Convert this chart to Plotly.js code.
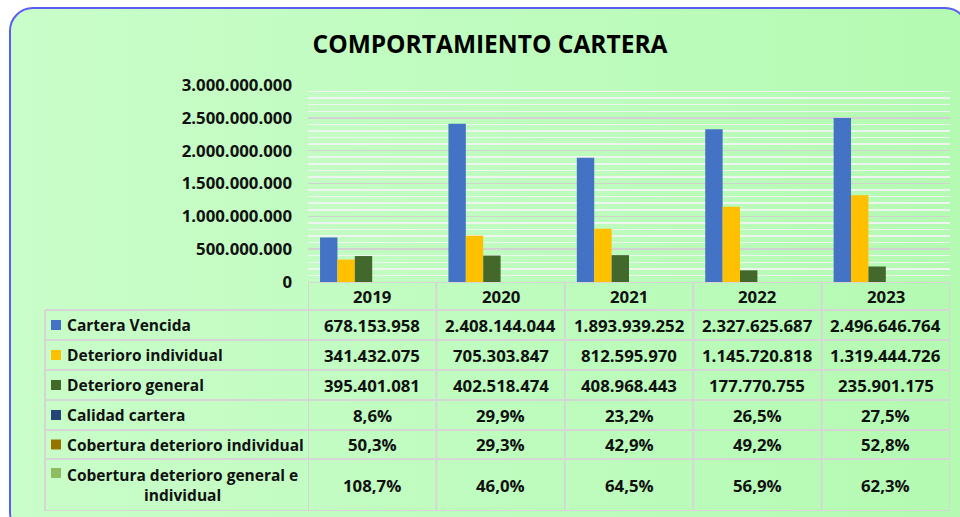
<!DOCTYPE html>
<html>
<head>
<meta charset="utf-8">
<script src="https://cdn.plot.ly/plotly-3.0.1.min.js"></script>
<style>
  html, body { margin: 0; padding: 0; background: #ffffff; width: 960px; height: 517px; overflow: hidden; }
  #frame { position: absolute; left: 9px; top: 7px; width: 960px; height: 530px;
           box-sizing: border-box; border: 2px solid #5a5cf2; border-radius: 24px;
           background: linear-gradient(90deg, #c9fdc9 0%, #bffcbf 50%, #b4fab2 100%); }
  #chart { position: absolute; left: 0; top: 0; width: 960px; height: 517px; }
</style>
</head>
<body>
<div id="frame"></div>
<div id="chart"></div>
<script>
// ---- data ----
const years = ['2019', '2020', '2021', '2022', '2023'];
const carteraVencida = [678153958, 2408144044, 1893939252, 2327625687, 2496646764];
const deterioroIndividual = [341432075, 705303847, 812595970, 1145720818, 1319444726];
const deterioroGeneral = [395401081, 402518474, 408968443, 177770755, 235901175];
const calidadCartera = [8.6, 29.9, 23.2, 26.5, 27.5];
const coberturaIndividual = [50.3, 29.3, 42.9, 49.2, 52.8];
const coberturaGeneralIndividual = [108.7, 46.0, 64.5, 56.9, 62.3];
const seriesNames = ['Cartera Vencida', 'Deterioro individual', 'Deterioro general',
  'Calidad cartera', 'Cobertura deterioro individual', 'Cobertura deterioro general e<br>individual'];
const yTickValues = [0, 500000000, 1000000000, 1500000000, 2000000000, 2500000000, 3000000000];

// ---- styles ----
const colors = ['#4472c4', '#ffc000', '#43682b', '#264478', '#997300', '#8fbc62'];
const FONT = 'Open Sans, sans-serif';
const TXT = '#111111';
const NUM_SIZE = 16.8;
const LAB_SIZE = 15.5;

const fmtNum = v => String(v).replace(/\B(?=(\d{3})+(?!\d))/g, '.');
const fmtPct = v => v.toFixed(1).replace('.', ',') + '%';

const rowsData = [
  carteraVencida.map(fmtNum),
  deterioroIndividual.map(fmtNum),
  deterioroGeneral.map(fmtNum),
  calidadCartera.map(fmtPct),
  coberturaIndividual.map(fmtPct),
  coberturaGeneralIndividual.map(fmtPct)
];

// all six series are plotted as clustered columns on the same axis (the
// percentage series are ratios, so their columns are too small to be seen)
const allSeries = [carteraVencida, deterioroIndividual, deterioroGeneral,
  calidadCartera.map(v => v / 100), coberturaIndividual.map(v => v / 100),
  coberturaGeneralIndividual.map(v => v / 100)];
const traces = allSeries.map((vals, i) => ({
  type: 'bar', x: years, y: vals, name: seriesNames[i],
  marker: { color: colors[i], line: { width: 0 } },
  hoverinfo: 'x+y'
}));

// ---- layout geometry ----
const W = 960, H = 517, ML = 308, MR = 10, MT = 85, MB = 6;
const PW = W - ML - MR, PH = H - MT - MB;
const tableTopPx = 282;
const splitFrac = (H - MB - tableTopPx) / PH;
const tableH = H - MB - tableTopPx;
const px2x = px => (px - ML) / PW;
const rowBounds = [0, 28, 58, 88, 118, 148, 177, tableH];
const rowCenters = [43, 73, 103, 133, 162.5, 203];
const lastRowKeyY = 191;

const shapes = [];
const annotations = [];
const lineStyle = { color: '#d6d6d6', width: 2 };

// horizontal lines
rowBounds.forEach((b, k) => {
  shapes.push({ type: 'line', xref: 'paper', yref: 'y2',
    x0: k === 0 ? 0 : px2x(45), x1: 1, y0: b, y1: b, line: lineStyle, layer: 'above' });
});
// vertical lines
shapes.push({ type: 'line', xref: 'paper', yref: 'y2', x0: px2x(45), x1: px2x(45), y0: rowBounds[1], y1: tableH, line: lineStyle });
for (let i = 0; i <= years.length; i++) {
  shapes.push({ type: 'line', xref: 'x', yref: 'y2', x0: i - 0.5, x1: i - 0.5, y0: 0, y1: tableH, line: lineStyle });
}
// header labels
years.forEach((y, i) => {
  annotations.push({ xref: 'x', yref: 'y2', x: i, y: 14, text: '<b>' + y + '</b>', showarrow: false,
    font: { family: FONT, size: NUM_SIZE, color: TXT } });
});
// row cells + legend keys
rowsData.forEach((row, r) => {
  row.forEach((t, i) => {
    annotations.push({ xref: 'x', yref: 'y2', x: i, y: rowCenters[r], text: '<b>' + t + '</b>', showarrow: false,
      font: { family: FONT, size: NUM_SIZE, color: TXT } });
  });
  const keyY = r === rowsData.length - 1 ? lastRowKeyY : rowCenters[r];
  shapes.push({ type: 'rect', xref: 'paper', yref: 'y2', x0: px2x(51), x1: px2x(61),
    y0: keyY - 5, y1: keyY + 5, fillcolor: colors[r], line: { width: 0 } });
  annotations.push({ xref: 'paper', yref: 'y2', x: px2x(65), y: rowCenters[r], xanchor: 'left',
    text: '<b>' + seriesNames[r] + '</b>', showarrow: false, align: 'center',
    font: { family: FONT, size: LAB_SIZE, color: TXT } });
});

const layout = {
  width: W, height: H,
  margin: { l: ML, r: MR, t: MT, b: MB, pad: 0 },
  paper_bgcolor: 'rgba(0,0,0,0)', plot_bgcolor: 'rgba(0,0,0,0)',
  separators: ',.',
  showlegend: false,
  barmode: 'group', bargap: 0.1875, bargroupgap: 0,
  title: { text: '<b>COMPORTAMIENTO CARTERA</b>', x: 490 / W, xanchor: 'center', xref: 'container',
    y: 1 - 44 / H, yanchor: 'middle', yref: 'container', font: { family: FONT, size: 24.5, color: '#000000' } },
  xaxis: { type: 'category', range: [-0.5, years.length - 0.5], showticklabels: false, showgrid: false, zeroline: false,
    showline: false, ticks: '', anchor: 'y' },
  yaxis: { domain: [splitFrac, 1], range: [0, 3000000000], tickvals: yTickValues, tickformat: ',d',
    showgrid: true, gridcolor: '#d2d2d2', gridwidth: 1.5, zeroline: false, showline: false, ticks: '',
    ticklabelstandoff: 15,
    minor: { dtick: 100000000, showgrid: true, gridcolor: '#eef5ee', gridwidth: 1.5 },
    tickfont: { family: FONT, size: NUM_SIZE, color: TXT, weight: 'bold' } },
  yaxis2: { domain: [0, splitFrac], range: [tableH, 0], visible: false, anchor: 'x', showgrid: false, zeroline: false },
  shapes: shapes,
  annotations: annotations
};

Plotly.newPlot('chart', traces, layout, { displayModeBar: false, staticPlot: true });
</script>
</body>
</html>
